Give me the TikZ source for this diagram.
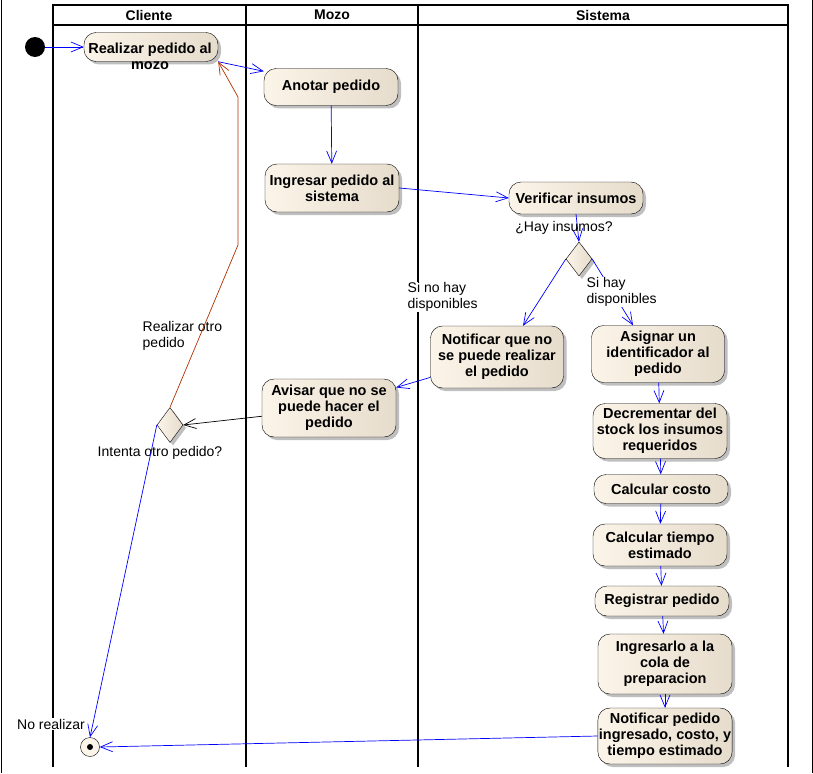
\documentclass[tikz,border=0pt]{standalone}
\usepackage{fontspec}
\setmainfont{Liberation Sans}
\usepackage{tikz}
\definecolor{actleft}{RGB}{251,244,232}
\definecolor{actright}{RGB}{230,220,204}
\definecolor{flowblue}{RGB}{0,0,255}
\definecolor{backflow}{RGB}{176,48,0}
\usetikzlibrary{shapes.geometric,shadows,arrows.meta}

\tikzset{
    act/.style={draw, rounded corners=12pt, left color=actleft, right color=actright,
        minimum width=134pt, inner sep=1pt, align=center,
        font=\fontsize{14.5}{16}\selectfont\bfseries,
        drop shadow={shadow xshift=3pt, shadow yshift=-3pt, fill=black!25, opacity=1}},
    choice/.style={draw, diamond, minimum width=26pt, minimum height=34pt, inner sep=0pt,
        left color=actleft, right color=actright,
        drop shadow={shadow xshift=3pt, shadow yshift=-3pt, fill=black!25, opacity=1}},
    tip/.style={-{Straight Barb[length=12pt,width=10pt]}, line width=0.7pt},
    flow/.style={tip, draw=flowblue},
    lbl/.style={font=\fontsize{14}{15.5}\selectfont, inner sep=0.5pt, align=left, fill=white},
    lanehead/.style={font=\fontsize{14}{16}\selectfont\bfseries},
    lane/.style={line width=1.4pt}
}

\begin{document}
\begin{tikzpicture}[x=1pt,y=-1pt]
    \useasboundingbox (0,0) rectangle (813,773);
    \draw[line width=1pt] (1,0) -- (1,773);
    \draw[line width=1pt] (812,0) -- (812,773);
    \draw[lane] (53,5) rectangle (788,25);
    \foreach \x in {53,246,418,788}
        \draw[lane] (\x,5) -- (\x,767);
    \node[lanehead] (cliente) at (149,15) {Cliente};
    \node[lanehead] (mozo) at (332,15) {Mozo};
    \node[lanehead] (sistema) at (603,15) {Sistema};

    \node[fill, circle, minimum size=20pt, inner sep=0pt] (inicio) at (35,47) {};
    \node[act, minimum height=29pt] (realizar) at (151,47) {};
    \node[font=\fontsize{14.5}{16}\selectfont\bfseries, align=center, inner sep=0pt] (realizartxt) at (150,56) {Realizar pedido al\\mozo};
    \node[act, minimum height=37pt] (anotar) at (331,87) {Anotar pedido};
    \node[act, minimum height=48pt] (ingresar) at (332,188) {Ingresar pedido al\\sistema};
    \node[act, minimum height=32pt] (verificar) at (576,198) {Verificar insumos};
    \node[choice] (hayinsumos) at (579,259) {};
    \node[act, minimum width=133pt, minimum height=62pt] (notificar) at (497,357) {Notificar que no\\se puede realizar\\el pedido};
    \node[act, minimum width=133pt, minimum height=57pt] (asignar) at (658,354) {Asignar un\\identificador al\\pedido};
    \node[act, minimum height=58pt] (avisar) at (329,408) {Avisar que no se\\puede hacer el\\pedido};
    \node[choice, minimum height=35pt] (otro) at (170,425) {};
    \node[act, minimum height=55pt] (decrementar) at (660,431) {Decrementar del\\stock los insumos\\requeridos};
    \node[act, minimum height=29pt] (costo) at (661,489) {Calcular costo};
    \node[act, minimum height=42pt] (tiempo) at (660,545) {Calcular tiempo\\estimado};
    \node[act, minimum height=30pt] (registrar) at (662,601) {Registrar pedido};
    \node[act, minimum height=60pt] (cola) at (665,664) {Ingresarlo a la\\cola de\\preparacion};
    \node[act, minimum height=56pt] (confirmar) at (665,736) {Notificar pedido\\ingresado, costo, y\\tiempo estimado};
    \node[draw, circle, fill=actleft, minimum size=19pt, inner sep=0pt] (fin) at (90,747) {};
    \fill (fin.center) circle (3);

    \node[lbl] (preguntainsumos) at (564,228) {¿Hay insumos?};
    \node[lbl, anchor=west] (sinohay) at (407,297) {Si no hay\\disponibles};
    \node[lbl, anchor=west] (realizarotro) at (142,336) {Realizar otro\\pedido};
    \node[lbl] (intenta) at (160,453) {Intenta otro pedido?};
    \node[lbl] (norealizar) at (51,724) {No realizar};

    \coordinate (vuelta1) at (238,245);
    \coordinate (vuelta2) at (238,97);

    \draw[flow] (inicio) -- (realizar);
    \draw[flow] (realizar.south east) -- ([yshift=-3pt]anotar.north west);
    \draw[flow] (anotar) -- (ingresar);
    \draw[flow] (ingresar.east) -- (verificar.west);
    \draw[flow] (verificar.south) -- (hayinsumos.north);
    \draw[flow] (hayinsumos.west) -- ([xshift=26pt]notificar.north);
    \draw[flow] (hayinsumos.east) -- ([xshift=-25pt]asignar.north);
    \draw[flow] (notificar.197) -- (avisar.17);
    \draw[tip] (avisar.187) -- (otro.east);
    \draw[tip, draw=backflow] (otro.north) -- (vuelta1) -- (vuelta2) -- (realizar.south east);
    \draw[flow] (otro.west) -- (fin.north);
    \draw[flow] (confirmar.west) -- (fin.east);
    \foreach \a/\b in {asignar/decrementar, decrementar/costo, costo/tiempo,
        tiempo/registrar, registrar/cola, cola/confirmar}
        \draw[flow] (\a) -- (\b);

    \node[lbl, anchor=west] (sihay) at (586,292) {Si hay\\disponibles};
\end{tikzpicture}
\end{document}
